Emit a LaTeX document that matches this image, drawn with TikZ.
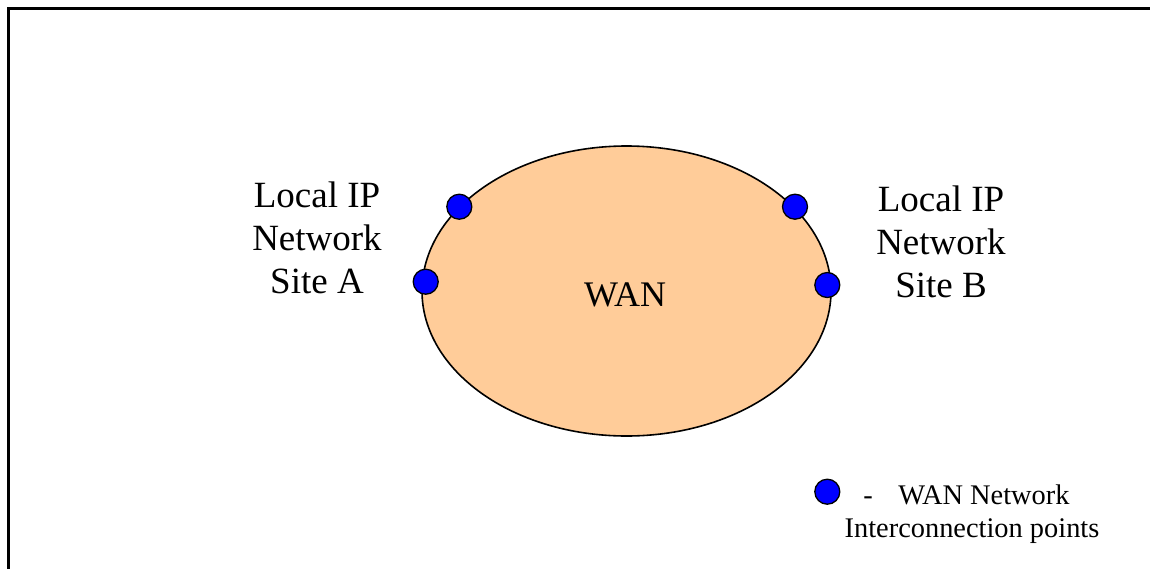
\documentclass[tikz,border=0pt]{standalone}
\usepackage{fontspec}
\setmainfont{Liberation Serif}
\usetikzlibrary{shapes.geometric}
\definecolor{peach}{HTML}{FFCC99}
\definecolor{dotblue}{HTML}{0000FF}
\tikzset{
  ip/.style={circle, draw=black, line width=0.65pt, fill=dotblue, minimum size=12.5pt, inner sep=0pt},
  sitelabel/.style={align=center, font=\fontsize{18.5}{21.5}\selectfont, inner sep=0pt},
  legendtext/.style={font=\fontsize{14.2}{16.5}\selectfont, inner sep=0pt, anchor=base}
}
\begin{document}
\begin{tikzpicture}[x=0.5pt, y=-0.5pt]
\useasboundingbox (0,0) rectangle (1150,568);
\clip (0,0) rectangle (1150,568);
\draw[line width=1.5pt] (8,8) rectangle (1170,590);
\node[ellipse, draw=black, line width=0.8pt, fill=peach, minimum width=204.5pt, minimum height=145pt, inner sep=0pt] (wan) at (626.5,291) {};
\node[font=\fontsize{18}{21}\selectfont, inner sep=0pt] (wanlabel) at (625,295) {WAN};
\node[ip] (a1) at (459.3,206.7) {};
\node[ip] (a2) at (425.7,281.7) {};
\node[ip] (b1) at (795,206.7) {};
\node[ip] (b2) at (827.3,285) {};
\node[sitelabel] (siteA) at (317,238) {Local IP\\Network\\Site A};
\node[sitelabel] (siteB) at (941,242) {Local IP\\Network\\Site B};
\node[ip] (leg) at (827.3,491.7) {};
\node[legendtext] (dash) at (868,504) {-};
\node[legendtext, anchor=base west] (legA) at (898,504) {WAN Network};
\node[legendtext] (legB) at (972,537) {Interconnection points};
\end{tikzpicture}
\end{document}
